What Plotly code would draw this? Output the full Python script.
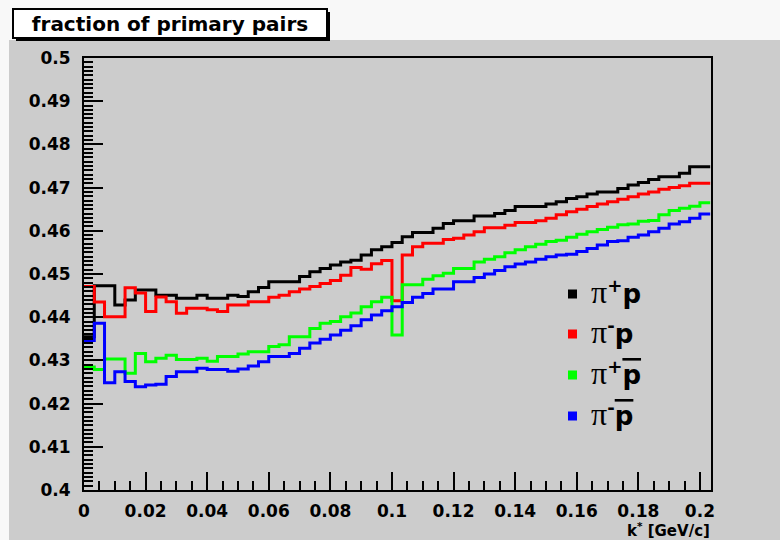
import numpy as np
import plotly.graph_objects as go

# ---- histogram data: fraction of primary pairs vs k* (61 bins of 0.2/60 GeV/c) ----
BIN_WIDTH = 0.2 / 60
N_BINS = 61

PIP_P = [0.4355, 0.4473, 0.4473, 0.4428, 0.4440, 0.4463, 0.4463, 0.4451, 0.4451, 0.4444,
         0.4444, 0.4451, 0.4444, 0.4444, 0.4451, 0.4448, 0.4459, 0.4469, 0.4482, 0.4482,
         0.4482, 0.4494, 0.4505, 0.4513, 0.4521, 0.4528, 0.4532, 0.4544, 0.4556, 0.4563,
         0.4573, 0.4586, 0.4596, 0.4596, 0.4606, 0.4617, 0.4623, 0.4623, 0.4634, 0.4634,
         0.4640, 0.4647, 0.4656, 0.4656, 0.4656, 0.4662, 0.4667, 0.4675, 0.4679, 0.4685,
         0.4690, 0.4690, 0.4698, 0.4706, 0.4712, 0.4719, 0.4725, 0.4725, 0.4733, 0.4748,
         0.4748]

PIM_P = [0.4471, 0.4435, 0.4401, 0.4401, 0.4468, 0.4456, 0.4413, 0.4447, 0.4436, 0.4409,
         0.4421, 0.4421, 0.4417, 0.4413, 0.4428, 0.4428, 0.4436, 0.4436, 0.4446, 0.4451,
         0.4459, 0.4465, 0.4471, 0.4478, 0.4485, 0.4497, 0.4515, 0.4511, 0.4524, 0.4531,
         0.4438, 0.4544, 0.4563, 0.4571, 0.4571, 0.4580, 0.4583, 0.4590, 0.4598, 0.4607,
         0.4607, 0.4613, 0.4619, 0.4619, 0.4623, 0.4629, 0.4637, 0.4644, 0.4650, 0.4656,
         0.4662, 0.4667, 0.4673, 0.4679, 0.4685, 0.4690, 0.4696, 0.4700, 0.4704, 0.4710,
         0.4710]

PIP_PBAR = [0.4285, 0.4279, 0.4303, 0.4303, 0.4270, 0.4316, 0.4297, 0.4305, 0.4312, 0.4302,
            0.4302, 0.4305, 0.4298, 0.4309, 0.4309, 0.4315, 0.4320, 0.4320, 0.4332, 0.4336,
            0.4355, 0.4355, 0.4374, 0.4386, 0.4390, 0.4401, 0.4410, 0.4424, 0.4436, 0.4446,
            0.4359, 0.4475, 0.4475, 0.4488, 0.4496, 0.4502, 0.4513, 0.4513, 0.4528, 0.4534,
            0.4540, 0.4549, 0.4556, 0.4563, 0.4569, 0.4575, 0.4578, 0.4585, 0.4592, 0.4598,
            0.4603, 0.4608, 0.4614, 0.4616, 0.4622, 0.4624, 0.4637, 0.4647, 0.4652, 0.4657,
            0.4665]

PIM_PBAR = [0.4346, 0.4386, 0.4248, 0.4274, 0.4251, 0.4239, 0.4243, 0.4245, 0.4263, 0.4274,
            0.4274, 0.4282, 0.4279, 0.4279, 0.4275, 0.4280, 0.4287, 0.4297, 0.4309, 0.4309,
            0.4316, 0.4328, 0.4340, 0.4349, 0.4359, 0.4370, 0.4380, 0.4394, 0.4405, 0.4415,
            0.4424, 0.4434, 0.4446, 0.4455, 0.4465, 0.4465, 0.4482, 0.4482, 0.4492, 0.4500,
            0.4508, 0.4517, 0.4523, 0.4528, 0.4534, 0.4540, 0.4544, 0.4546, 0.4552, 0.4559,
            0.4567, 0.4575, 0.4577, 0.4585, 0.4590, 0.4598, 0.4606, 0.4616, 0.4621, 0.4629,
            0.4639]

SERIES_NAMES = ["π+p", "π-p", "π+pbar", "π-pbar"]
SERIES_COLORS = ["#000000", "#ff0000", "#00ff00", "#0000ff"]
PI = '<span style="font-family:Liberation Serif;font-weight:normal;font-size:32px">π</span>'
PBAR = '<span style="text-decoration:overline">p</span>'
LEGEND_LABELS = [
    PI + '<sup>+</sup>p',
    PI + '<sup>-</sup>p',
    PI + '<sup>+</sup>' + PBAR,
    PI + '<sup>-</sup>' + PBAR,
]

X_TICKS = [0, 0.02, 0.04, 0.06, 0.08, 0.1, 0.12, 0.14, 0.16, 0.18, 0.2]
X_TICK_LABELS = ["0", "0.02", "0.04", "0.06", "0.08", "0.1", "0.12", "0.14", "0.16", "0.18", "0.2"]
Y_TICKS = [0.4, 0.41, 0.42, 0.43, 0.44, 0.45, 0.46, 0.47, 0.48, 0.49, 0.5]
Y_TICK_LABELS = ["0.4", "0.41", "0.42", "0.43", "0.44", "0.45", "0.46", "0.47", "0.48", "0.49", "0.5"]

TITLE = "fraction of primary pairs"
X_TITLE = "k<sup>*</sup> [GeV/c]"

# ---- page geometry ----
W, H = 780, 540
ML, MR, MT, MB = 84, 69, 58, 50
PW, PH = W - ML - MR, H - MT - MB


def px_x(px):
    return (px - ML) / PW


def px_y(py):
    return (H - MB - py) / PH


edges = np.arange(N_BINS + 1) * BIN_WIDTH

fig = go.Figure()
for vals, name, color in zip([PIP_P, PIM_P, PIP_PBAR, PIM_PBAR], SERIES_NAMES, SERIES_COLORS):
    y = list(vals) + [vals[-1]]
    fig.add_trace(go.Scatter(
        x=edges, y=y, mode="lines", name=name,
        line=dict(color=color, width=3, shape="hv"),
        showlegend=False, hoverinfo="skip",
    ))

TICK_FONT = dict(family="DejaVu Sans", size=17, color="black", weight="bold")

fig.update_xaxes(
    range=[0, 0.2036], showline=True, linecolor="black", linewidth=2, mirror=True,
    showgrid=False, zeroline=False,
    tickmode="array", tickvals=X_TICKS, ticktext=X_TICK_LABELS,
    ticks="inside", ticklen=18, tickwidth=1.5, tickcolor="black",
    minor=dict(tickmode="linear", tick0=0, dtick=0.005, ticks="inside", ticklen=9,
               tickwidth=1.5, tickcolor="black", showgrid=False),
    tickfont=TICK_FONT, ticklabelstandoff=5,
)
fig.update_yaxes(
    range=[0.4, 0.5], showline=True, linecolor="black", linewidth=2, mirror=True,
    showgrid=False, zeroline=False,
    tickmode="array", tickvals=Y_TICKS, ticktext=Y_TICK_LABELS,
    ticks="inside", ticklen=19, tickwidth=1.5, tickcolor="black",
    minor=dict(tickmode="linear", tick0=0.4, dtick=0.001, ticks="inside", ticklen=9,
               tickwidth=1.5, tickcolor="black", showgrid=False),
    tickfont=TICK_FONT, ticklabelstandoff=8,
)

shapes = [
    # grey pad
    dict(type="rect", xref="paper", yref="paper", layer="below",
         x0=px_x(9), x1=px_x(W + 2), y0=px_y(H + 2), y1=px_y(40),
         fillcolor="#cccccc", line=dict(width=0)),
    # title box shadow
    dict(type="rect", xref="paper", yref="paper", layer="above",
         x0=px_x(16), x1=px_x(330), y0=px_y(41), y1=px_y(12),
         fillcolor="black", line=dict(width=0)),
]

annotations = [
    dict(xref="paper", yref="paper", x=px_x(12), y=px_y(8), xanchor="left", yanchor="top",
         text=TITLE, showarrow=False, align="center",
         font=dict(family="DejaVu Sans", size=20, color="black", weight="bold"),
         bgcolor="white", bordercolor="black", borderwidth=2, borderpad=1,
         width=310, height=25),
    dict(xref="paper", yref="paper", x=px_x(711), y=px_y(519), xanchor="right", yanchor="top",
         text=X_TITLE, showarrow=False, borderpad=0,
         font=dict(family="DejaVu Sans", size=15, color="black", weight="bold")),
]

# legend: square key + label per series
LEGEND_Y = [294, 334, 375, 416]
for label, color, ly in zip(LEGEND_LABELS, SERIES_COLORS, LEGEND_Y):
    shapes.append(dict(type="rect", xref="paper", yref="paper", layer="above",
                       x0=px_x(568), x1=px_x(577), y0=px_y(ly + 4.5), y1=px_y(ly - 4.5),
                       fillcolor=color, line=dict(width=0)))
    annotations.append(dict(xref="paper", yref="paper", x=px_x(589), y=px_y(ly - 2),
                            xanchor="left", yanchor="middle", text=label, showarrow=False,
                            font=dict(family="DejaVu Sans", size=26, color="black",
                                      weight="bold")))

fig.update_layout(
    width=W, height=H, margin=dict(l=ML, r=MR, t=MT, b=MB, pad=0),
    paper_bgcolor="#f8f8f8", plot_bgcolor="rgba(0,0,0,0)",
    shapes=shapes, annotations=annotations, showlegend=False,
)

fig.write_html("out.html")
